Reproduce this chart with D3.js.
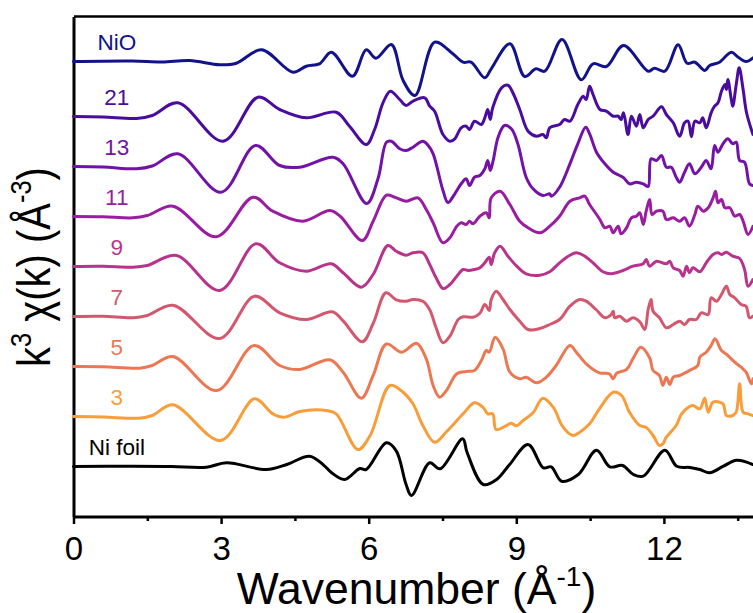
<!DOCTYPE html>
<html><head><meta charset="utf-8">
<script src="https://cdn.jsdelivr.net/npm/d3@7"></script>
<style>html,body{margin:0;padding:0;background:#fff;}svg{display:block;font-family:Arial,"Liberation Sans",sans-serif;}</style>
</head><body>
<svg id="chart" width="753" height="613"></svg>
<script>
// Series labels, colours and vertical stacking offsets
const seriesNames = ["NiO","21","13","11","9","7","5","3","Ni foil"];
const seriesColors = ["#12128a","#4a0c9e","#7312a8","#9a1ca0","#b8348c","#d3576d","#ec7853","#f99d3b","#000000"];
const seriesOffsets = [45.5,40,35,30,25,20,15,10,5];
const xTicksMajor = [0,3,6,9,12];
const xTicksMinor = [1.5,4.5,7.5,10.5,13.5];

// k (Å^-1), k^3 chi(k) (arb.)
const sNiO = [[0,0],[1.2,0.05],[1.8,-0.05],[2.36,0.1],[2.97,-0.33],[3.31,-0.17],[3.82,1.17],[4.46,-1.07],[4.73,-0.47],[5.0,-0.23],[5.24,0.93],[5.67,-1.47],[5.95,1.17],[6.15,0.33],[6.46,1.7],[6.7,-1.9],[6.94,-3.4],[7.34,1.93],[7.71,0.77],[7.92,-0.07],[8.08,-0.07],[8.36,-1.63],[8.49,-0.73],[8.87,1.77],[9.17,-1.5],[9.40,-0.73],[9.58,-0.97],[9.93,2.2],[10.32,-1.83],[10.56,-0.23],[10.83,-0.5],[11.18,1.6],[11.68,-0.97],[11.81,-0.67],[12.02,-0.97],[12.29,1.67],[12.47,-0.17],[12.63,-0.07],[12.83,-0.9],[12.93,-0.4],[13.13,-0.07],[13.37,0.93],[13.51,0.43],[13.67,0],[13.81,0.37]];
const s21 = [[0,0],[0.6,-0.05],[1.28,-0.2],[1.6,0.1],[2.12,1.37],[3.04,-2.47],[3.75,1.93],[4.19,0.7],[4.73,-0.13],[5.34,0.43],[5.61,-0.97],[5.95,-2.8],[6.12,-1.3],[6.29,1.37],[6.44,2.53],[6.63,1.7],[6.76,1.1],[6.9,1.53],[7.14,1.87],[7.24,1.03],[7.34,0.53],[7.51,-1.8],[7.65,-2.47],[7.75,-2.23],[7.88,-1.13],[7.98,-0.97],[8.05,-1.3],[8.15,-0.47],[8.29,-0.8],[8.36,-0.13],[8.42,0.7],[8.47,-0.3],[8.52,0.87],[8.70,2.87],[8.83,3.13],[8.93,2.37],[9.07,0.7],[9.24,-1.47],[9.41,-1.97],[9.54,-1.8],[9.61,-2.13],[9.68,-1.13],[9.88,-0.8],[9.98,-0.3],[10.09,-0.47],[10.25,1.2],[10.36,2.03],[10.42,1.7],[10.49,3.03],[10.56,2.2],[10.70,0.7],[10.83,0.53],[10.97,0.03],[11.07,0.03],[11.13,-0.3],[11.18,0.37],[11.27,-1.8],[11.34,0.03],[11.44,-0.97],[11.51,0.2],[11.58,-1.13],[11.68,-0.3],[11.78,0.03],[11.95,0.97],[12.05,0.2],[12.19,-0.63],[12.32,-1.97],[12.42,-0.63],[12.49,-0.47],[12.56,-2.03],[12.63,-0.47],[12.73,-0.63],[12.79,-0.13],[12.86,-1.13],[12.96,0.37],[13.03,1.03],[13.10,1.37],[13.17,2.53],[13.24,3.2],[13.27,2.7],[13.30,3.7],[13.37,1.7],[13.40,1.03],[13.47,3.2],[13.53,4.87],[13.61,2.7],[13.68,0.37],[13.81,-1.8]];
const s13 = [[0,0],[0.6,-0.05],[1.28,-0.23],[1.6,0.05],[2.12,1.27],[3.0,-2.57],[3.70,2.1],[4.19,0.1],[4.60,-0.07],[5.27,0.93],[5.48,0.27],[5.96,-3.7],[6.19,-1.2],[6.36,2.43],[6.46,2.53],[6.63,1.77],[6.76,1.6],[6.90,1.93],[7.10,2.53],[7.21,2.1],[7.31,1.27],[7.51,-2.4],[7.61,-3.6],[7.75,-2.73],[7.88,-1.73],[7.98,-1.23],[8.05,-1.9],[8.15,-1.07],[8.26,-0.9],[8.36,-0.23],[8.42,0.6],[8.47,-0.4],[8.53,0.6],[8.63,2.93],[8.76,4.1],[8.90,3.77],[9.03,2.27],[9.20,-1.07],[9.34,-2.23],[9.54,-2.9],[9.68,-2.73],[9.71,-2.97],[9.88,-2.07],[10.09,0.27],[10.25,2.27],[10.41,3.93],[10.49,3.27],[10.63,1.43],[10.80,0.27],[10.97,-0.57],[11.17,-1.07],[11.30,-1.73],[11.44,-1.57],[11.58,-1.73],[11.68,-2.0],[11.74,0.77],[11.85,0.6],[11.95,1.1],[12.05,-0.07],[12.15,-0.07],[12.25,-1.07],[12.32,-1.57],[12.42,-0.57],[12.52,0.27],[12.63,-0.73],[12.76,-0.07],[12.86,0.6],[12.96,-0.23],[13.03,2.1],[13.10,1.43],[13.20,2.27],[13.30,2.77],[13.40,2.27],[13.47,2.43],[13.54,0.6],[13.64,0.43],[13.74,-1.73],[13.81,-1.9]];
const s11 = [[0,0],[0.6,-0.03],[1.21,-0.13],[1.5,0.1],[2.02,1.03],[2.90,-2.03],[3.65,1.93],[4.05,0.53],[4.66,-0.47],[5.21,0.6],[5.42,0.03],[5.87,-2.4],[6.09,-0.47],[6.36,2.13],[6.53,1.93],[6.76,1.53],[7.0,1.87],[7.17,0.7],[7.31,-0.63],[7.51,-2.63],[7.65,-2.13],[7.79,-0.97],[7.88,-0.63],[7.98,-0.8],[8.05,-0.47],[8.12,-0.73],[8.26,0.03],[8.39,0.37],[8.45,-0.13],[8.49,1.87],[8.67,2.53],[8.87,1.2],[9.07,-0.47],[9.24,-1.13],[9.48,-1.63],[9.68,-0.97],[9.88,0.03],[10.09,1.53],[10.29,1.87],[10.39,2.03],[10.49,1.2],[10.70,-0.3],[10.80,-1.13],[10.90,-0.97],[10.97,-1.63],[11.07,-0.97],[11.13,-1.73],[11.24,-1.13],[11.34,-0.13],[11.44,0.03],[11.51,0.37],[11.58,-0.8],[11.64,0.53],[11.71,1.7],[11.76,0.2],[11.85,0.53],[11.98,0.53],[12.05,-0.3],[12.19,-0.13],[12.32,-0.47],[12.42,-0.13],[12.52,-0.97],[12.63,0.2],[12.69,1.03],[12.80,0.53],[12.90,0.87],[13.0,1.87],[13.05,2.53],[13.10,1.37],[13.17,1.7],[13.24,0.87],[13.34,0.87],[13.44,0.03],[13.54,0.2],[13.61,-0.47],[13.71,-1.8],[13.81,-0.97]];
const s9 = [[0,0],[0.6,0.02],[1.21,-0.07],[1.5,0.1],[2.09,1.1],[2.97,-2.4],[3.71,2.27],[4.19,0.37],[4.73,-0.47],[5.24,0.27],[5.48,-0.63],[5.85,-2.07],[6.09,-0.8],[6.39,2.1],[6.56,1.53],[6.76,1.13],[6.90,1.37],[7.10,1.37],[7.24,0.2],[7.37,-1.13],[7.51,-2.2],[7.65,-1.8],[7.79,-0.97],[7.92,-0.3],[8.02,-0.4],[8.15,-0.3],[8.26,-0.13],[8.36,0.37],[8.45,0.93],[8.49,0.2],[8.56,1.37],[8.67,2.03],[8.83,1.03],[9.01,0.03],[9.20,-0.73],[9.48,-0.87],[9.68,-0.53],[9.88,0.37],[10.09,1.13],[10.22,1.37],[10.36,1.13],[10.56,0.37],[10.76,-0.53],[10.93,-0.73],[11.17,-0.4],[11.37,0.03],[11.58,0.27],[11.64,0.7],[11.71,0.03],[11.85,0.53],[12.05,0.27],[12.12,0.53],[12.19,-0.13],[12.32,-0.4],[12.39,-0.97],[12.46,0.03],[12.52,-0.63],[12.59,-0.13],[12.73,-0.53],[12.86,0.37],[13.0,1.2],[13.10,1.37],[13.17,1.2],[13.27,1.43],[13.40,1.03],[13.54,0.8],[13.64,-0.3],[13.71,-1.97],[13.81,-1.3]];
const s7 = [[0,0],[0.6,0.02],[1.21,-0.13],[1.5,0.1],[2.02,1.13],[2.97,-2.2],[3.68,2.03],[4.19,0.37],[4.73,-0.3],[5.26,0.47],[5.48,-0.43],[5.87,-2.53],[6.09,-0.7],[6.35,2.37],[6.56,1.67],[6.76,1.53],[6.90,1.7],[7.10,1.53],[7.24,0.67],[7.37,-1.13],[7.51,-2.63],[7.65,-1.97],[7.82,-0.3],[7.92,-0.03],[8.12,-0.07],[8.26,0.33],[8.36,1.2],[8.45,0.6],[8.49,1.7],[8.59,2.53],[8.73,1.7],[8.87,0.7],[9.07,-0.47],[9.24,-1.3],[9.48,-1.2],[9.68,-0.8],[9.88,-0.3],[10.09,1.03],[10.29,1.7],[10.42,1.53],[10.62,0.7],[10.80,-0.13],[10.93,0.2],[10.97,0.53],[11.0,-0.13],[11.10,0.03],[11.24,-0.47],[11.37,-0.13],[11.51,-0.53],[11.61,-1.3],[11.68,0.7],[11.74,1.7],[11.78,0.53],[11.91,-0.13],[12.05,-1.13],[12.19,-0.8],[12.32,-0.47],[12.42,-0.8],[12.52,-0.3],[12.66,-0.3],[12.76,0.37],[12.90,0.2],[12.96,1.87],[13.07,1.53],[13.17,2.2],[13.27,3.03],[13.34,2.2],[13.44,1.87],[13.57,1.2],[13.67,1.03],[13.74,-0.13],[13.81,0.03]];
const s5 = [[0,0],[0.6,-0.02],[1.34,-0.17],[1.6,0.1],[2.02,1.0],[2.91,-2.4],[3.67,2.1],[4.19,0.1],[4.60,-0.3],[5.21,0.67],[5.48,-0.57],[5.85,-3.17],[6.09,-0.9],[6.36,2.25],[6.67,1.43],[6.97,2.33],[7.17,0.77],[7.31,-1.9],[7.44,-3.07],[7.58,-2.4],[7.79,-0.73],[7.98,-0.5],[8.15,-0.4],[8.29,0.6],[8.39,1.6],[8.45,1.43],[8.57,2.93],[8.73,1.77],[8.87,-0.57],[9.07,-1.23],[9.20,-1.07],[9.41,-1.63],[9.61,-1.07],[9.81,0.1],[10.09,2.1],[10.22,1.43],[10.42,0.27],[10.69,-0.63],[10.89,-0.73],[10.97,-1.23],[11.04,-0.67],[11.24,-0.3],[11.37,0.77],[11.53,1.93],[11.71,0.87],[11.78,-0.4],[11.91,-0.9],[11.98,-1.9],[12.05,-1.07],[12.12,-1.8],[12.19,-1.07],[12.32,-0.9],[12.52,-0.4],[12.69,0.1],[12.73,0.93],[12.86,1.43],[12.96,2.1],[13.04,2.77],[13.17,1.6],[13.30,1.1],[13.44,0.43],[13.57,-0.07],[13.67,-0.57],[13.78,-1.73],[13.81,-1.23]];
const s3 = [[0,0],[0.6,-0.05],[1.34,-0.17],[1.6,0.1],[2.02,1.17],[2.99,-2.4],[3.68,1.77],[4.05,0.27],[4.29,-0.07],[4.60,0.5],[5.14,0.6],[5.34,0.27],[5.78,-3.3],[6.03,-1.9],[6.43,3.1],[6.70,2.43],[6.90,1.27],[7.10,-0.9],[7.34,-2.57],[7.58,-1.53],[7.92,0.27],[8.15,1.37],[8.32,0.93],[8.42,0.27],[8.52,0.27],[8.59,-1.3],[8.79,-0.93],[8.90,-0.67],[9.00,-0.93],[9.14,-0.4],[9.34,0.37],[9.54,1.83],[9.75,0.93],[9.95,-1.07],[10.15,-1.9],[10.29,-1.57],[10.49,-0.73],[10.69,0.77],[10.97,2.43],[11.14,2.1],[11.30,0.43],[11.51,-0.9],[11.64,-1.1],[11.78,-1.9],[11.91,-2.9],[11.98,-2.73],[12.05,-2.07],[12.25,-0.9],[12.36,0.27],[12.50,0.93],[12.59,1.1],[12.73,0.77],[12.83,1.83],[12.90,0.43],[13.0,1.43],[13.20,1.27],[13.27,0.1],[13.40,0.1],[13.47,0.43],[13.54,3.27],[13.61,0.43],[13.71,0.27],[13.81,0.1]];
const sNi = [[0,0],[1.2,0.02],[2.0,0.0],[2.70,-0.07],[3.11,0.37],[3.92,-0.3],[4.35,0.23],[4.80,1.03],[5.10,0.07],[5.24,-0.6],[5.51,-1.3],[5.82,-0.2],[5.95,-0.3],[6.36,2.37],[6.56,1.57],[6.76,-1.8],[6.87,-2.9],[7.24,0.37],[7.45,-0.23],[7.91,2.77],[8.00,1.4],[8.33,-1.8],[8.60,-1.3],[8.86,0.17],[9.24,2.2],[9.55,-0.13],[9.71,-0.03],[9.92,-1.47],[10.26,-0.8],[10.63,1.63],[10.90,-0.03],[11.16,0.1],[11.38,-0.8],[11.58,-0.97],[12.02,1.63],[12.26,0.03],[12.53,-0.1],[12.73,-0.3],[12.93,-0.63],[13.21,0.03],[13.48,0.63],[13.81,0.2]];
const seriesData = [sNiO,s21,s13,s11,s9,s7,s5,s3,sNi];

const svg = d3.select("#chart");
const x = d3.scaleLinear().domain([0,14]).range([73.5,73.5+14*49.2]);
const y = d3.scaleLinear().domain([0,50]).range([516.5,16.5]);

// frame: left, top, bottom
svg.append("g").attr("transform","translate(73.5,0)")
  .call(d3.axisLeft(y).tickValues([]).tickSizeOuter(0))
  .call(g=>g.select(".domain").attr("stroke","#000").attr("stroke-width",3));
svg.append("g").attr("transform","translate(0,16)")
  .call(d3.axisTop(x).tickValues([]).tickSizeOuter(0))
  .call(g=>g.select(".domain").attr("stroke","#000").attr("stroke-width",2.5));
svg.append("g").attr("transform","translate(0,516.5)")
  .call(d3.axisBottom(x).tickValues(xTicksMinor).tickSize(4.5).tickSizeOuter(0).tickFormat(""))
  .call(g=>g.selectAll(".tick line").attr("stroke-width",2.5))
  .call(g=>g.select(".domain").remove());
svg.append("g").attr("transform","translate(0,516.5)")
  .call(d3.axisBottom(x).tickValues(xTicksMajor).tickSize(7.5).tickSizeOuter(0).tickPadding(12.5).tickFormat(d3.format("d")))
  .call(g=>g.select(".domain").attr("stroke-width",3))
  .call(g=>g.selectAll(".tick line").attr("stroke-width",2.5))
  .call(g=>g.selectAll(".tick text").attr("font-size",33).attr("fill","#000").attr("font-family","Arial, 'Liberation Sans', sans-serif"));

const line = d3.line().curve(d3.curveCatmullRom.alpha(0.5));
seriesData.forEach((d,i)=>{
  svg.append("path")
    .attr("d", line(d.map(p=>[x(p[0]), y(p[1]+seriesOffsets[i])])))
    .attr("fill","none").attr("stroke",seriesColors[i]).attr("stroke-width",3)
    .attr("stroke-linejoin","round").attr("stroke-linecap","round");
  svg.append("text").attr("x",x(0.88)).attr("y",y(seriesOffsets[i]+1.15))
    .attr("text-anchor","middle").attr("font-size",22.5).attr("fill",seriesColors[i])
    .text(seriesNames[i]);
});

// axis titles
const xt = svg.append("text").attr("x",416.5).attr("y",604).attr("text-anchor","middle").attr("font-size",44.5);
xt.append("tspan").text("Wavenumber (Å");
xt.append("tspan").attr("font-size",28).attr("dy",-18).text("-1");
xt.append("tspan").attr("dy",18).text(")");

const yt = svg.append("text").attr("transform","translate(50,267) rotate(-90) scale(0.85,1)").attr("text-anchor","middle").attr("font-size",47);
yt.append("tspan").text("k");
yt.append("tspan").attr("font-size",30).attr("dy",-19).text("3");
yt.append("tspan").attr("dy",19).text(" χ(k) (Å");
yt.append("tspan").attr("font-size",30).attr("dy",-19).text("-3");
yt.append("tspan").attr("dy",19).text(")");
</script>
</body></html>
